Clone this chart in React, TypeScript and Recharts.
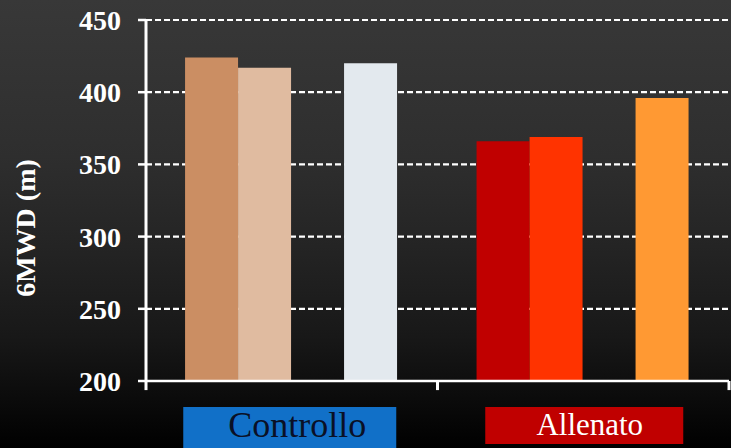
import React from 'react';
import { BarChart, Bar, XAxis, YAxis, CartesianGrid, Cell, ReferenceLine } from 'recharts';

// Groups and the three measured bars in each group (6MWD, metres)
const categories = ['Controllo', 'Allenato'];
const firstValues = [424, 366];
const secondValues = [417, 369];
const thirdValues = [420, 396];
const yTicks = [200, 250, 300, 350, 400, 450];

// Per-group bar colours
const firstColors = ['#CB8E63', '#C00000'];
const secondColors = ['#E0BBA0', '#FF3300'];
const thirdColors = ['#E3E9EE', '#FF9933'];

const data = categories.map((name, i) => ({
  name,
  first: firstValues[i],
  second: secondValues[i],
  spacer: null,
  third: thirdValues[i],
}));

const SERIF = '"Liberation Serif", "Times New Roman", serif';
const WHITE = '#FFFFFF';

// Boxed category captions under the axis
const captionStyles: Record<string, any> = {
  Controllo: { fill: '#1170C8', color: '#0A1026', width: 213, height: 44, boxShift: -2, textShift: 5.5, fontSize: 36, baseline: 56 },
  Allenato: { fill: '#C00000', color: '#FFFFFF', width: 198, height: 37, boxShift: 1, textShift: 6.5, fontSize: 31, baseline: 54 },
};

const CategoryTick = (props: any) => {
  const { x, y, payload } = props;
  const s = captionStyles[payload.value];
  if (!s) return <g />;
  return (
    <g>
      <rect x={x + s.boxShift - s.width / 2} y={y + 26} width={s.width} height={s.height} fill={s.fill} />
      <text
        x={x + s.textShift}
        y={y + s.baseline}
        textAnchor="middle"
        fill={s.color}
        fontSize={s.fontSize}
        fontFamily={SERIF}
      >
        {payload.value}
      </text>
    </g>
  );
};

// Small downward ticks marking the group boundaries on the x axis
const boundaryTicks: { cat: string; pos: 'start' | 'end' }[] = [
  { cat: 'Controllo', pos: 'start' },
  { cat: 'Allenato', pos: 'start' },
  { cat: 'Allenato', pos: 'end' },
];
const TICK_DEPTH = 6.3;

export default function App() {
  return (
    <div
      style={{
        position: 'absolute',
        left: 0,
        top: 0,
        width: 731,
        height: 448,
        background:
          'linear-gradient(to bottom, #383838 0%, #2e2e2e 35%, #242424 55%, #181818 75%, #0a0a0a 90%, #000000 100%)',
      }}
    >
      <BarChart
        width={731}
        height={448}
        data={data}
        margin={{ top: 20, right: 2, bottom: 0, left: 0 }}
        barCategoryGap="13.4%"
        barGap={0}
      >
        <CartesianGrid horizontal vertical={false} stroke={WHITE} strokeWidth={2.2} strokeDasharray="6 3" />
        <XAxis
          dataKey="name"
          height={67}
          interval={0}
          axisLine={{ stroke: WHITE, strokeWidth: 2.5 }}
          tickLine={false}
          tickSize={0}
          tickMargin={0}
          tick={(p: any) => <CategoryTick {...p} />}
        />
        <YAxis
          width={146}
          domain={[200, 450]}
          ticks={yTicks}
          interval={0}
          allowDataOverflow
          axisLine={{ stroke: WHITE, strokeWidth: 3 }}
          tickLine={{ stroke: WHITE, strokeWidth: 2.5 }}
          tickSize={8}
          tickMargin={17}
          tick={{ fill: WHITE, fontSize: 28, fontWeight: 'bold', fontFamily: SERIF }}
          label={{
            content: () => (
              <text
                x={35}
                y={228}
                transform="rotate(-90 35 228)"
                textAnchor="middle"
                fill={WHITE}
                fontSize={28}
                fontWeight="bold"
                fontFamily={SERIF}
              >
                6MWD (m)
              </text>
            ),
          }}
        />
        <Bar dataKey="first" isAnimationActive={false}>
          {data.map((d, i) => (
            <Cell key={d.name} fill={firstColors[i]} />
          ))}
        </Bar>
        <Bar dataKey="second" isAnimationActive={false}>
          {data.map((d, i) => (
            <Cell key={d.name} fill={secondColors[i]} />
          ))}
        </Bar>
        <Bar dataKey="spacer" isAnimationActive={false} fill="none" />
        <Bar dataKey="third" isAnimationActive={false}>
          {data.map((d, i) => (
            <Cell key={d.name} fill={thirdColors[i]} />
          ))}
        </Bar>
        {boundaryTicks.map((t, i) => (
          <ReferenceLine
            key={i}
            segment={[
              { x: t.cat, y: 200 },
              { x: t.cat, y: 200 - TICK_DEPTH },
            ]}
            position={t.pos}
            ifOverflow="visible"
            stroke={WHITE}
            strokeWidth={3}
          />
        ))}
      </BarChart>
    </div>
  );
}
